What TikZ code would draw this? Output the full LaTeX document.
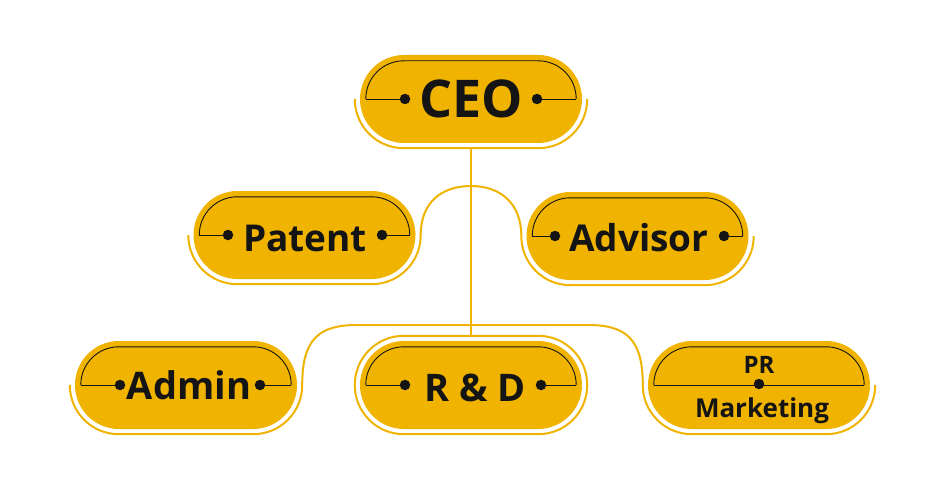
\documentclass[tikz,border=0pt]{standalone}
\usepackage{fontspec}
\setmainfont{Open Sans}
\usetikzlibrary{calc}
\definecolor{gold}{HTML}{EFB300}
\definecolor{ink}{HTML}{141414}
\tikzset{
  pillfill/.style={fill=gold, draw=none, rounded corners=44pt, minimum width=222pt, minimum height=88pt, inner sep=0pt},
  outl/.style={draw=gold, line width=2pt, rounded corners=49pt},
  innerl/.style={draw=ink, line width=0.9pt, rounded corners=38pt},
  conn/.style={draw=gold, line width=2pt},
  dotm/.style={circle, fill=ink, inner sep=0pt, minimum size=10.5pt},
  lbl/.style={text=ink, inner sep=0pt, anchor=base}
}
% #1 name, #2 cx, #3 cy, #4 left dot x, #5 right dot x
\newcommand\PillBox[5]{%
  \node[pillfill] (#1) at (#2,#3) {};
  \draw[outl] ($(#1.west)+(-5,0)$) -- ($(#1.south west)+(-5,5)$) -- ($(#1.south east)+(5,5)$) -- ($(#1.east)+(5,0)$);
  \draw[innerl] ($(#1.west)+(6,0)$) -- ($(#1.north west)+(6,6)$) -- ($(#1.north east)+(-6,6)$) -- ($(#1.east)+(-6,0)$);
  \node[dotm] (#1-dl) at (#4,#3) {};
  \node[dotm] (#1-dr) at (#5,#3) {};
  \draw[draw=ink, line width=0.9pt] ($(#1.west)+(6,0)$) -- (#1-dl.center);
  \draw[draw=ink, line width=0.9pt] (#1-dr.center) -- ($(#1.east)+(-6,0)$);
}
\begin{document}
\begin{tikzpicture}[x=1pt,y=-1pt]
\useasboundingbox (0,0) rectangle (945,500);

\PillBox{ceo}{471}{99}{405}{537}
\PillBox{patent}{304.5}{235}{228}{382}
\PillBox{advisor}{637.5}{236}{555}{724}
\PillBox{admin}{186}{385}{120}{260}
\PillBox{rd}{471}{385}{405}{541}

% R&D full outline (upper half)
\draw[outl] ($(rd.west)+(-5,0)$) -- ($(rd.north west)+(-5,-5)$) -- ($(rd.north east)+(5,-5)$) -- ($(rd.east)+(5,0)$);

% PR / Marketing
\node[pillfill] (pr) at (759,385) {};
\draw[outl] ($(pr.west)+(-5,0)$) -- ($(pr.south west)+(-5,5)$) -- ($(pr.south east)+(5,5)$) -- ($(pr.east)+(5,0)$);
\draw[innerl] ($(pr.west)+(6,0)$) -- ($(pr.north west)+(6,6)$) -- ($(pr.north east)+(-6,6)$) -- ($(pr.east)+(-6,0)$);
\draw[draw=ink, line width=0.9pt] ($(pr.west)+(6,0)$) -- ($(pr.east)+(-6,0)$);
\node[dotm] (pr-d) at (759,384) {};

% labels
\node[lbl, font=\fontsize{52}{52}\selectfont\bfseries] (ceo-t) at (471.5,118) {CEO};
\node[lbl, font=\fontsize{37}{37}\selectfont\bfseries] (patent-t) at (305,251) {Patent};
\node[lbl, font=\fontsize{37}{37}\selectfont\bfseries] (advisor-t) at (639,251) {Advisor};
\node[lbl, font=\fontsize{38}{38}\selectfont\bfseries] (admin-t) at (189,399) {Admin};
\node[lbl, font=\fontsize{38}{38}\selectfont\bfseries] (rd-t) at (475,401) {R \& D};
\node[lbl, font=\fontsize{24}{24}\selectfont\bfseries] (pr-t) at (759,373) {PR};
\node[lbl, font=\fontsize{26}{26}\selectfont\bfseries] (mk-t) at (762,417) {Marketing};

% connectors
\coordinate (j1) at (471,186);
\coordinate (h1) at (357,325);
\coordinate (h2) at (588,325);
\draw[conn] ($(ceo.south)+(0,6)$) -- ($(rd.north)+(0,-6)$);
\draw[conn] ($(patent.east)+(5,0)$) .. controls +(0,-32) and +(-30,0) .. (j1)
            .. controls +(30,0) and +(0,-32) .. ($(advisor.west)+(-5,0)$);
\draw[conn] ($(admin.east)+(5,0)$) .. controls +(0,-46) and +(-38,0) .. (h1) -- (h2)
            .. controls +(38,0) and +(0,-46) .. ($(pr.west)+(-5,0)$);
\end{tikzpicture}
\end{document}
